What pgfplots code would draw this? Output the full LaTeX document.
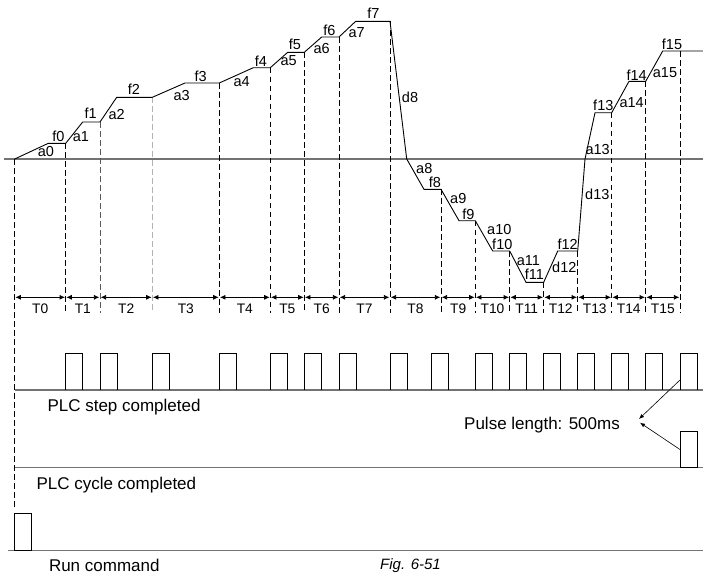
\documentclass[border=0pt]{standalone}
\usepackage{pgfplots}
\pgfplotsset{compat=1.18}
\usepackage{fontspec}
\setmainfont{Liberation Sans}
\usetikzlibrary{arrows.meta}
\tikzset{
  lbl/.style={font=\fontsize{14.5}{16}\selectfont, inner sep=0pt, anchor=center},
  tl/.style={font=\fontsize{13.8}{16}\selectfont, inner sep=0pt, anchor=center},
  big/.style={font=\fontsize{17}{20}\selectfont, inner sep=0pt, anchor=base west},
  dbl/.style={line width=0.8pt, black, {Latex[length=5.5pt,width=5pt]}-{Latex[length=5.5pt,width=5pt]}, shorten <=0.6pt, shorten >=0.6pt},
}
\begin{document}
\begin{tikzpicture}
\begin{axis}[
  at={(0,0)}, anchor=south west,
  scale only axis, width=703pt, height=574pt,
  xmin=0, xmax=703, ymin=0, ymax=574, y dir=reverse,
  hide axis, clip=false,
  every axis plot/.append style={no marks},
  unbounded coords=jump,
]
% baselines (gray)
\addplot[line width=1.2pt, gray!90!black] coordinates {(4,159) (703,159)};
\addplot[line width=1.2pt, gray!90!black] coordinates {(14.7,390) (703,390)};
\addplot[line width=1.2pt, gray!90!black] coordinates {(14.7,467.7) (703,467.7)};
\addplot[line width=1.2pt, gray!90!black] coordinates {(8.3,550.5) (703,550.5)};

% dashed step boundaries
\addplot[black, line width=0.8pt, dash pattern=on 5.5pt off 3.5pt] coordinates {
(14.7,159) (14.7,507) (14.7,nan)
(65.7,143.3) (65.7,313) (65.7,nan)
(219.3,83) (219.3,313) (219.3,nan)
(270.3,67.7) (270.3,313) (270.3,nan)
(304.3,52.3) (304.3,313) (304.3,nan)
(339,37) (339,313) (339,nan)
(390,21.3) (390,313) (390,nan)
(441,189.3) (441,313) (441,nan)
(475.3,220.7) (475.3,313) (475.3,nan)
(509.7,251) (509.7,313) (509.7,nan)
(543.7,282.3) (543.7,313) (543.7,nan)
(577.7,251) (577.7,313) (577.7,nan)
(611.7,112.7) (611.7,313) (611.7,nan)
(645.7,81.3) (645.7,313) (645.7,nan)
(680,51) (680,313)
};
\addplot[gray!70!black, line width=0.8pt, dash pattern=on 5.5pt off 3.5pt] coordinates {(100,122) (100,313)};
\addplot[gray!60, line width=0.8pt, dash pattern=on 5.5pt off 3.5pt] coordinates {(152.3,97.3) (152.3,313)};

% speed profile
\addplot[black, line width=0.9pt] coordinates {
(14.7,159) (48.3,143.3) (65.7,143.3) (82.7,122) (100,122) (116.7,97.3) (152.3,97.3)
(185,83) (219.3,83) (253.3,67.7) (270.3,67.7) (287.7,52.3) (304.3,52.3) (321.7,37)
(339,37) (355.7,21.3) (390,21.3) (406.7,159) (424,189.3) (441,189.3) (459,220.7)
(475.3,220.7) (492.7,251) (509.7,251) (526,282.3) (543.7,282.3) (557.7,251)
(577.7,251) (585,159) (595,112.7) (611.7,112.7) (629,81.3) (645.7,81.3)
(662.7,51) (703,51)
};

% duration arrows
\addplot[dbl] coordinates {(14.7,297.3) (65.7,297.3)};
\addplot[dbl] coordinates {(65.7,297.3) (100,297.3)};
\addplot[dbl] coordinates {(100,297.3) (152.3,297.3)};
\addplot[dbl] coordinates {(152.3,297.3) (219.3,297.3)};
\addplot[dbl] coordinates {(219.3,297.3) (270.3,297.3)};
\addplot[dbl] coordinates {(270.3,297.3) (304.3,297.3)};
\addplot[dbl] coordinates {(304.3,297.3) (339,297.3)};
\addplot[dbl] coordinates {(339,297.3) (390,297.3)};
\addplot[dbl] coordinates {(390,297.3) (441,297.3)};
\addplot[dbl] coordinates {(441,297.3) (475.3,297.3)};
\addplot[dbl] coordinates {(475.3,297.3) (509.7,297.3)};
\addplot[dbl] coordinates {(509.7,297.3) (543.7,297.3)};
\addplot[dbl] coordinates {(543.7,297.3) (577.7,297.3)};
\addplot[dbl] coordinates {(577.7,297.3) (611.7,297.3)};
\addplot[dbl] coordinates {(611.7,297.3) (645.7,297.3)};
\addplot[dbl] coordinates {(645.7,297.3) (680,297.3)};

% PLC step completed pulses
\addplot[black, line width=0.9pt] coordinates {
(65.7,390) (65.7,353.3) (82.7,353.3) (82.7,390) (82.7,nan)
(100,390) (100,353.3) (117,353.3) (117,390) (117,nan)
(152.3,390) (152.3,353.3) (169.3,353.3) (169.3,390) (169.3,nan)
(219.3,390) (219.3,353.3) (236.3,353.3) (236.3,390) (236.3,nan)
(270.3,390) (270.3,353.3) (287.3,353.3) (287.3,390) (287.3,nan)
(304.3,390) (304.3,353.3) (321.3,353.3) (321.3,390) (321.3,nan)
(339,390) (339,353.3) (356,353.3) (356,390) (356,nan)
(390,390) (390,353.3) (407,353.3) (407,390) (407,nan)
(431.7,390) (431.7,353.3) (448.7,353.3) (448.7,390) (448.7,nan)
(475.3,390) (475.3,353.3) (492.3,353.3) (492.3,390) (492.3,nan)
(509.7,390) (509.7,353.3) (526.7,353.3) (526.7,390) (526.7,nan)
(543.7,390) (543.7,353.3) (560.7,353.3) (560.7,390) (560.7,nan)
(577.7,390) (577.7,353.3) (594.7,353.3) (594.7,390) (594.7,nan)
(611.7,390) (611.7,353.3) (628.7,353.3) (628.7,390) (628.7,nan)
(645.7,390) (645.7,353.3) (662.7,353.3) (662.7,390) (662.7,nan)
(680,390) (680,353.3) (697,353.3) (697,390)
};
% PLC cycle completed pulse
\addplot[black, line width=0.9pt] coordinates {(680,467.7) (680,431) (697.3,431) (697.3,467.7) (680,467.7)};
% Run command pulse
\addplot[black, line width=0.9pt] coordinates {(14.7,550.5) (14.7,513.3) (31.7,513.3) (31.7,550.5) (14.7,550.5)};

% pulse length arrows
\addplot[black, line width=0.6pt, -{Latex[length=5pt,width=4pt]}] coordinates {(680.7,379.3) (639,419)};
\addplot[black, line width=0.6pt, -{Latex[length=5pt,width=4pt]}] coordinates {(680.7,450) (640,422.7)};

% profile labels
\node[lbl] at (axis cs:46,151.7) {a0};
\node[lbl] at (axis cs:58.3,136) {f0};
\node[lbl] at (axis cs:81,136.7) {a1};
\node[lbl] at (axis cs:90.7,113.3) {f1};
\node[lbl] at (axis cs:116.7,114.3) {a2};
\node[lbl] at (axis cs:134,89.3) {f2};
\node[lbl] at (axis cs:181.7,95.7) {a3};
\node[lbl] at (axis cs:200.7,76.7) {f3};
\node[lbl] at (axis cs:241.7,81.7) {a4};
\node[lbl] at (axis cs:261,61.7) {f4};
\node[lbl] at (axis cs:288.7,61) {a5};
\node[lbl] at (axis cs:295,44.3) {f5};
\node[lbl] at (axis cs:321.7,49) {a6};
\node[lbl] at (axis cs:329.3,30) {f6};
\node[lbl] at (axis cs:356.7,32.3) {a7};
\node[lbl] at (axis cs:373.3,13.3) {f7};
\node[lbl] at (axis cs:410,97.3) {d8};
\node[lbl] at (axis cs:424.3,168.3) {a8};
\node[lbl] at (axis cs:435,182.3) {f8};
\node[lbl] at (axis cs:458.3,198.3) {a9};
\node[lbl] at (axis cs:468.3,214) {f9};
\node[lbl] at (axis cs:499.3,229.3) {a10};
\node[lbl] at (axis cs:502.3,244) {f10};
\node[lbl] at (axis cs:528.3,260.7) {a11};
\node[lbl] at (axis cs:534.3,274) {f11};
\node[lbl] at (axis cs:564.3,267.3) {d12};
\node[lbl] at (axis cs:567.7,244.7) {f12};
\node[lbl] at (axis cs:597.3,194) {d13};
\node[lbl] at (axis cs:597.7,149.3) {a13};
\node[lbl] at (axis cs:603.3,105) {f13};
\node[lbl] at (axis cs:631.7,102.7) {a14};
\node[lbl] at (axis cs:636.7,75) {f14};
\node[lbl] at (axis cs:665,72.7) {a15};
\node[lbl] at (axis cs:672,44) {f15};

% T labels
\node[tl] at (axis cs:40.2,308.7) {T0};
\node[tl] at (axis cs:82.85,308.7) {T1};
\node[tl] at (axis cs:126.15,308.7) {T2};
\node[tl] at (axis cs:185.8,308.7) {T3};
\node[tl] at (axis cs:244.8,308.7) {T4};
\node[tl] at (axis cs:287.3,308.7) {T5};
\node[tl] at (axis cs:321.65,308.7) {T6};
\node[tl] at (axis cs:364.5,308.7) {T7};
\node[tl] at (axis cs:415.5,308.7) {T8};
\node[tl] at (axis cs:458.15,308.7) {T9};
\node[tl] at (axis cs:492.5,308.7) {T10};
\node[tl] at (axis cs:526.7,308.7) {T11};
\node[tl] at (axis cs:560.7,308.7) {T12};
\node[tl] at (axis cs:594.7,308.7) {T13};
\node[tl] at (axis cs:628.7,308.7) {T14};
\node[tl] at (axis cs:662.85,308.7) {T15};

% row labels
\node[big] at (axis cs:47.3,411.7) {PLC step completed};
\node[big] at (axis cs:464,429.3) {Pulse length: 500ms};
\node[big] at (axis cs:36.3,489.3) {PLC cycle completed};
\node[big] at (axis cs:48.8,571.7) {Run command};
\node[big, font=\fontsize{15}{18}\selectfont\itshape] at (axis cs:380,569.5) {Fig. 6-51};
\end{axis}
\pgfresetboundingbox
\useasboundingbox (0,0) rectangle (703pt,574pt);
\end{tikzpicture}
\end{document}
